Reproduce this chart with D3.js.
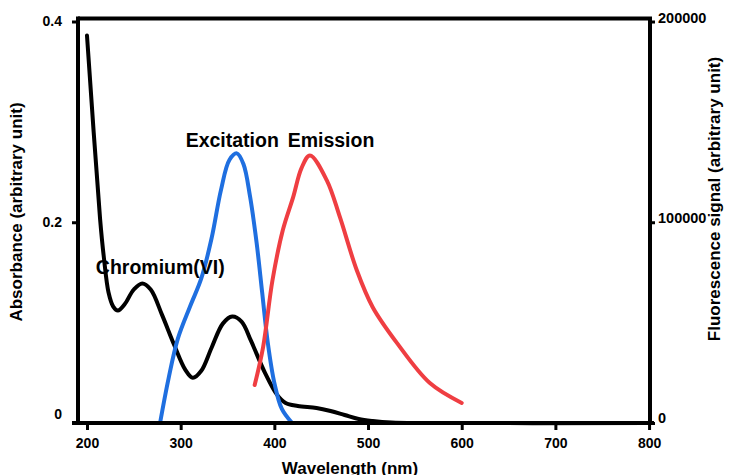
<!DOCTYPE html>
<html><head><meta charset="utf-8">
<script src="https://cdn.jsdelivr.net/npm/d3@7"></script>
<style>
body{margin:0;background:#fff;}
svg{display:block;font-family:"Liberation Sans",Arial,Helvetica,sans-serif;}
</style></head>
<body><svg id="c" width="733" height="475"></svg>
<script>
// Data
const absWavelength = [200,214,218,223,228,233,240,250,259,268,280,293,305,313,322,333,345,355,365,375,390,403,412,425,445,460,475,490,505,525,560,800];
const absValues     = [0.386,0.203,0.165,0.130,0.116,0.112,0.118,0.133,0.139,0.133,0.108,0.078,0.053,0.045,0.052,0.075,0.099,0.106,0.101,0.082,0.050,0.028,0.020,0.017,0.015,0.012,0.008,0.004,0.002,0.0005,0,0];
const excWavelength = [278,287,297,310,322,333,343,352,360,367,374,381,387,393,400,408,419];
const excValues     = [0,22000,42000,58000,72000,92000,116000,131000,134300,129000,113000,90000,65000,40000,20000,7000,0];
const emWavelength  = [379,388,398,409,420,429,438,456,470,488,505,531,566,600];
const emValues      = [18900,37800,71100,96000,112400,127000,133300,120900,102500,76100,57700,39800,19900,10000];
const xTicks = [200,300,400,500,600,700,800];
const yLeftTicks = [0,0.2,0.4];
const yLeftLabels = ["0","0.2","0.4"];
const yRightTicks = [0,100000,200000];
const yRightLabels = ["0","100000","200000"];
const labels = {x:"Wavelength (nm)", yl:"Absorbance (arbitrary unit)", yr:"Fluorescence signal (arbitrary unit)"};
const annotations = [
  {text:"Excitation", wl:305.3, val:0.2746},
  {text:"Emission", wl:414.2, val:0.2746},
  {text:"Chromium(VI)", wl:209.4, val:0.148}
];

const svg = d3.select("#c");
const L = 78, R = 650, T = 21.5, B = 423;
const x = d3.scaleLinear().domain([190.4, 801]).range([L, R]);
const yl = d3.scaleLinear().domain([0, 0.4]).range([B, T]);
const yr = d3.scaleLinear().domain([0, 200000]).range([B, T]);

const line = (xs, ys, yScale) => d3.line().curve(d3.curveCatmullRom.alpha(0.5))
  .x((d,i)=>x(xs[i])).y((d,i)=>yScale(ys[i]))(xs);

svg.append("path").attr("d", line(absWavelength, absValues, yl))
  .attr("fill","none").attr("stroke","#000").attr("stroke-width",4).attr("stroke-linecap","round");
svg.append("path").attr("d", line(excWavelength, excValues, yr))
  .attr("fill","none").attr("stroke","#1f6fe0").attr("stroke-width",4).attr("stroke-linecap","round");
svg.append("path").attr("d", line(emWavelength, emValues, yr))
  .attr("fill","none").attr("stroke","#ef3e42").attr("stroke-width",4).attr("stroke-linecap","round");

// Frame
svg.append("path").attr("d", `M${L},${T-3} H${R} V${B}`).attr("fill","none").attr("stroke","#000").attr("stroke-width",4);
svg.append("line").attr("x1",L).attr("x2",L).attr("y1",T-5).attr("y2",B+2).attr("stroke","#000").attr("stroke-width",4);
svg.append("line").attr("x1",L-6).attr("x2",R+4).attr("y1",B).attr("y2",B).attr("stroke","#000").attr("stroke-width",4);

function styleAxis(g, fs){
  g.select(".domain").remove();
  g.selectAll(".tick line").attr("stroke","#000").attr("stroke-width",3);
  g.selectAll(".tick text").attr("fill","#000").attr("font-size",fs).attr("font-weight","bold")
    .attr("font-family","'Liberation Sans',Arial,sans-serif");
}
const gx = svg.append("g").attr("transform",`translate(0,${B})`)
  .call(d3.axisBottom(x).tickValues(xTicks).tickSize(7).tickPadding(8).tickFormat(d3.format("d")));
styleAxis(gx, 14);
const gl = svg.append("g").attr("transform",`translate(${L},0)`)
  .call(d3.axisLeft(yl).tickValues(yLeftTicks).tickSize(6).tickPadding(10).tickFormat((d,i)=>yLeftLabels[i]));
styleAxis(gl, 14);
gl.selectAll(".tick").filter(d=>d===0).select("line").remove();
gl.selectAll(".tick").filter(d=>d===0).select("text").attr("dy","-0.3em");
const gr = svg.append("g").attr("transform",`translate(${R},0)`)
  .call(d3.axisRight(yr).tickValues(yRightTicks).tickSize(5).tickPadding(3).tickFormat((d,i)=>yRightLabels[i]));
styleAxis(gr, 14.5);
gr.selectAll(".tick text").attr("dy","0.05em");
gr.selectAll(".tick").filter(d=>d===0).select("text").attr("dy","-0.05em");

// Titles
svg.append("text").attr("x",350).attr("y",474).attr("text-anchor","middle")
  .attr("font-size",17).attr("font-weight","bold").text(labels.x);
svg.append("text").attr("transform","translate(22,212) rotate(-90)").attr("text-anchor","middle")
  .attr("font-size",17).attr("font-weight","bold").text(labels.yl);
svg.append("text").attr("transform","translate(720,199) rotate(-90)").attr("text-anchor","middle")
  .attr("font-size",17).attr("font-weight","bold").text(labels.yr);

// Annotations
svg.selectAll("text.ann").data(annotations).join("text").attr("class","ann")
  .attr("x",d=>x(d.wl)).attr("y",d=>yl(d.val)).attr("font-size",19.5).attr("font-weight","bold")
  .attr("fill","#000").text(d=>d.text);
</script></body></html>
